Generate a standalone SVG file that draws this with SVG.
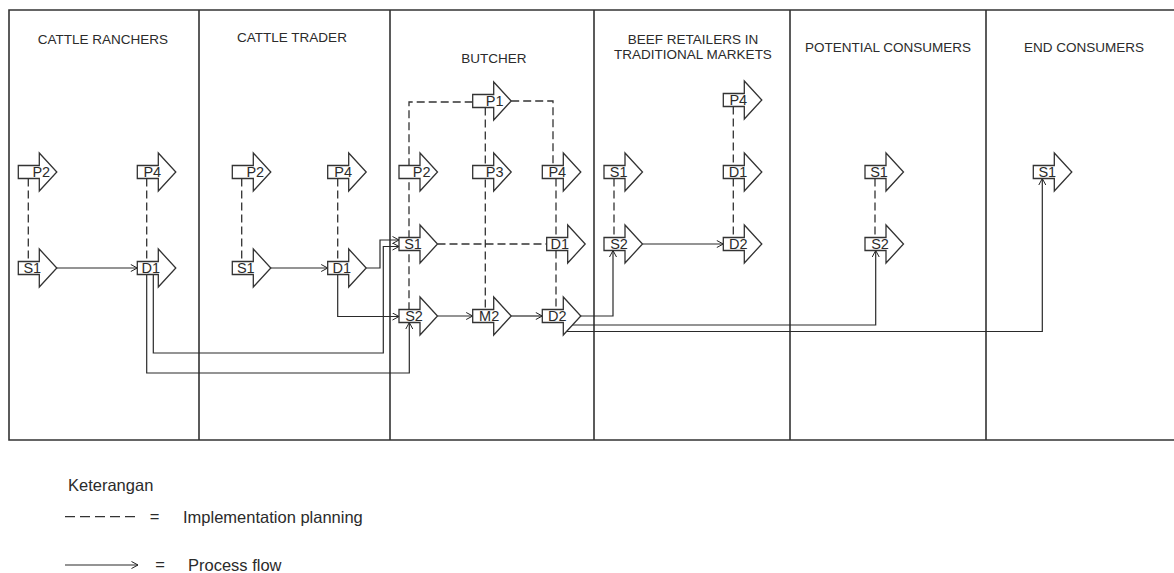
<svg xmlns="http://www.w3.org/2000/svg" xmlns:xlink="http://www.w3.org/1999/xlink" width="1174" height="573" viewBox="0 0 1174 573">
<style>
.frame{fill:none;stroke:#333;stroke-width:1.6}
.hdr{font-family:"Liberation Sans",Arial,sans-serif;font-size:13.5px;fill:#2b2b2b;text-anchor:middle}
.lbl{font-family:"Liberation Sans",Arial,sans-serif;font-size:14.5px;fill:#2b2b2b;text-anchor:middle}
.leg{font-family:"Liberation Sans",Arial,sans-serif;font-size:16.5px;fill:#2b2b2b}
.blk{fill:#fff;stroke:#333;stroke-width:1.3}
.dash{fill:none;stroke:#333;stroke-width:1.3;stroke-dasharray:8,4}
.flow{fill:none;stroke:#2a2a2a;stroke-width:1.2;marker-end:url(#arr)}
</style>
<defs>
<path id="blk" class="blk" d="M0,-6.5 H21 V-19 L38.5,0 L21,19 V6.5 H0 Z"/>
<marker id="arr" viewBox="0 0 8 8" refX="7.5" refY="4" markerWidth="8" markerHeight="8" markerUnits="userSpaceOnUse" orient="auto">
<path d="M1,0.5 L7.5,4 L1,7.5" fill="none" stroke="#222" stroke-width="1"/>
</marker>
</defs>
<rect width="1174" height="573" fill="#fff"/>
<g id="frame">
<path class="frame" d="M1180,10 H9 V440 H1180"/>
<path class="frame" d="M199,10 V440 M390,10 V440 M594,10 V440 M790,10 V440 M986,10 V440"/>
<text class="hdr" x="103" y="44">CATTLE RANCHERS</text>
<text class="hdr" x="292" y="42">CATTLE TRADER</text>
<text class="hdr" x="494" y="63">BUTCHER</text>
<text class="hdr" x="693" y="44">BEEF RETAILERS IN</text>
<text class="hdr" x="693" y="59">TRADITIONAL MARKETS</text>
<text class="hdr" x="888" y="52">POTENTIAL CONSUMERS</text>
<text class="hdr" x="1084" y="52">END CONSUMERS</text>
</g>
<g id="connectors">
<path class="dash" d="M28.3,178.5 V261.5 M146.7,178.5 V261.5 M241.7,178.5 V261.5 M337.7,178.5 V261.5"/>
<path class="dash" d="M472.7,102 H409 V309.5 M511.2,101 H553 V165.5 M556,178.5 V309.5 M485.3,107.5 V309.5 M437.5,244 H546.7"/>
<path class="dash" d="M614,178.5 V237.5 M733.3,106.5 V237.5 M875,178.5 V237.5"/>
<path class="flow" d="M56.8,268 H137.3"/>
<path class="flow" d="M270.8,268 H327.7"/>
<path class="flow" d="M366.2,268 H380 V240 H399"/>
<path class="flow" d="M153.3,274.5 V353 H383.3 V246.5 H399"/>
<path class="flow" d="M337.7,274.5 V316.5 H399"/>
<path class="flow" d="M146.7,274.5 V373 H409.3 V322.5"/>
<path class="flow" d="M437.5,316 H472.7"/>
<path class="flow" d="M511.2,316 H542.3"/>
<path class="flow" d="M580.8,316 H613 V250.5"/>
<path class="flow" d="M566,325 H875.7 V250.5"/>
<path class="flow" d="M564,331.5 H1042.3 V178.5"/>
<path class="flow" d="M642.5,244 H723.3"/>
</g>
<g id="r_p2" transform="translate(18.3,172)"><use href="#blk"/><text class="lbl" x="23" y="5">P2</text></g>
<g id="r_p4" transform="translate(137.3,172)"><use href="#blk"/><text class="lbl" x="15" y="5">P4</text></g>
<g id="r_s1" transform="translate(18.3,268)"><use href="#blk"/><text class="lbl" x="14" y="5">S1</text></g>
<g id="r_d1" transform="translate(137.3,268)"><use href="#blk"/><text class="lbl" x="13.5" y="5">D1</text></g>
<g id="t_p2" transform="translate(232.3,172)"><use href="#blk"/><text class="lbl" x="23" y="5">P2</text></g>
<g id="t_p4" transform="translate(327.7,172)"><use href="#blk"/><text class="lbl" x="15.5" y="5">P4</text></g>
<g id="t_s1" transform="translate(232.3,268)"><use href="#blk"/><text class="lbl" x="13.5" y="5">S1</text></g>
<g id="t_d1" transform="translate(327.7,268)"><use href="#blk"/><text class="lbl" x="14" y="5">D1</text></g>
<g id="b_p1" transform="translate(472.7,101)"><use href="#blk"/><text class="lbl" x="22" y="5">P1</text></g>
<g id="b_p2" transform="translate(399,172)"><use href="#blk"/><text class="lbl" x="22.7" y="5">P2</text></g>
<g id="b_p3" transform="translate(472.7,172)"><use href="#blk"/><text class="lbl" x="22" y="5">P3</text></g>
<g id="b_p4" transform="translate(542.3,172)"><use href="#blk"/><text class="lbl" x="15" y="5">P4</text></g>
<g id="b_s1" transform="translate(399,244)"><use href="#blk"/><text class="lbl" x="14" y="5">S1</text></g>
<g id="b_d1" transform="translate(546.7,244)"><use href="#blk"/><text class="lbl" x="13" y="5">D1</text></g>
<g id="b_s2" transform="translate(399,316)"><use href="#blk"/><text class="lbl" x="15" y="5">S2</text></g>
<g id="b_m2" transform="translate(472.7,316)"><use href="#blk"/><text class="lbl" x="16.5" y="5">M2</text></g>
<g id="b_d2" transform="translate(542.3,316)"><use href="#blk"/><text class="lbl" x="15" y="5">D2</text></g>
<g id="rt_p4" transform="translate(723.3,100)"><use href="#blk"/><text class="lbl" x="15" y="5">P4</text></g>
<g id="rt_s1" transform="translate(604,172)"><use href="#blk"/><text class="lbl" x="14.7" y="5">S1</text></g>
<g id="rt_d1" transform="translate(723.3,172)"><use href="#blk"/><text class="lbl" x="14.7" y="5">D1</text></g>
<g id="rt_s2" transform="translate(604,244)"><use href="#blk"/><text class="lbl" x="15" y="5">S2</text></g>
<g id="rt_d2" transform="translate(723.3,244)"><use href="#blk"/><text class="lbl" x="15" y="5">D2</text></g>
<g id="pc_s1" transform="translate(865,172)"><use href="#blk"/><text class="lbl" x="14" y="5">S1</text></g>
<g id="pc_s2" transform="translate(865,244)"><use href="#blk"/><text class="lbl" x="15" y="5">S2</text></g>
<g id="ec_s1" transform="translate(1033.3,172)"><use href="#blk"/><text class="lbl" x="14" y="5">S1</text></g>
<g id="legend">
<text class="leg" x="68" y="491">Keterangan</text>
<path d="M65,516.7 H137" fill="none" stroke="#333" stroke-width="1.3" stroke-dasharray="10,5"/>
<text class="leg" x="154.5" y="522" text-anchor="middle">=</text>
<text class="leg" x="183" y="523">Implementation planning</text>
<path class="flow" d="M65,565 H138"/>
<text class="leg" x="160" y="570" text-anchor="middle">=</text>
<text class="leg" x="188" y="570.5">Process flow</text>
</g>
</svg>
